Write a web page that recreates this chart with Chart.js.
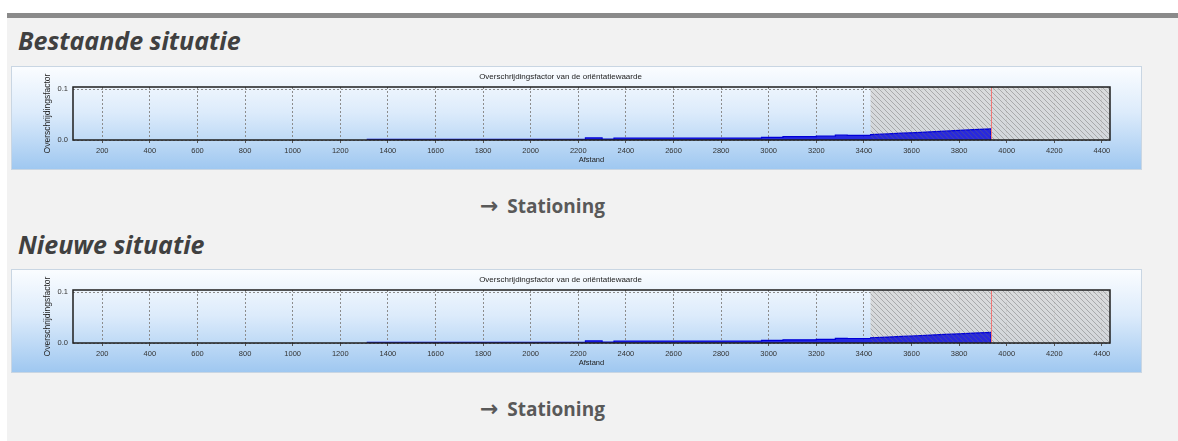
<!DOCTYPE html>
<html>
<head>
<meta charset="utf-8">
<script src="https://cdn.jsdelivr.net/npm/chart.js@4/dist/chart.umd.min.js"></script>
<style>
  html, body { margin: 0; padding: 0; width: 1178px; height: 441px; overflow: hidden; background: #ffffff; }
  .sheet { position: absolute; left: 7px; top: 13px; width: 1171px; height: 428px; background: #f2f2f2; border-top: 5px solid #8a8a8a; }
  .heading { position: absolute; left: 18px; margin: 0; font-family: "Open Sans", sans-serif; font-weight: 700; font-style: italic; font-size: 25px; line-height: 1; color: #404040; white-space: nowrap; }
  .station { position: absolute; left: 480px; margin: 0; font-family: "Open Sans", sans-serif; font-weight: 700; font-size: 19px; line-height: 1; color: #595959; white-space: nowrap; }
  .station .arrow { font-family: "DejaVu Sans", sans-serif; font-weight: 700; font-size: 22px; margin-right: 4px; }
  .panel { position: absolute; left: 11px; width: 1131px; height: 104px; }
</style>
</head>
<body>
<div class="sheet"></div>
<div class="heading" style="top:28px">Bestaande situatie</div>
<canvas id="chartBestaand" class="panel" width="1131" height="104" style="top:66px"></canvas>
<div class="station" style="top:195px"><span class="arrow">→</span> Stationing</div>
<div class="heading" style="top:232px">Nieuwe situatie</div>
<canvas id="chartNieuw" class="panel" width="1131" height="104" style="top:269px"></canvas>
<div class="station" style="top:398px"><span class="arrow">→</span> Stationing</div>

<script>
// Axis ticks and ranges
const xTicks = [200, 400, 600, 800, 1000, 1200, 1400, 1600, 1800, 2000, 2200,
                2400, 2600, 2800, 3000, 3200, 3400, 3600, 3800, 4000, 4200, 4400];
const yTicks = [0.0, 0.1];
const xRange = [77, 4434];
const yRange = [0, 0.104];

// Hatched zone start and red marker position (Afstand)
const zoneStart = 3428;
const markerAt = 3934;

// Bestaande situatie: afstand (m) and overschrijdingsfactor
const bestaandeAfstand = [1311, 2230, 2230, 2300, 2300, 2350, 2350, 2970, 2970, 3060, 3060,
                          3200, 3200, 3280, 3280, 3330, 3330, 3428, 3428, 3500, 3560, 3620,
                          3680, 3740, 3800, 3860, 3934, 3934];
const bestaandeFactor = [0.0015, 0.0015, 0.004, 0.004, 0.002, 0.002, 0.0035, 0.0035, 0.005, 0.005, 0.0065,
                         0.0065, 0.0075, 0.0075, 0.0095, 0.0095, 0.009, 0.009, 0.0105, 0.012, 0.0133, 0.0146,
                         0.016, 0.0174, 0.0188, 0.0203, 0.022, 0];

// Nieuwe situatie
const nieuweAfstand = [1311, 2230, 2230, 2300, 2300, 2350, 2350, 2970, 2970, 3060, 3060,
                       3200, 3200, 3280, 3280, 3330, 3330, 3428, 3428, 3500, 3560, 3620,
                       3680, 3740, 3800, 3860, 3934, 3934];
const nieuweFactor = [0.0015, 0.0015, 0.004, 0.004, 0.002, 0.002, 0.0035, 0.0035, 0.005, 0.005, 0.0062,
                      0.0062, 0.0072, 0.0072, 0.0092, 0.0092, 0.0088, 0.0088, 0.0103, 0.0117, 0.013, 0.0142,
                      0.0155, 0.0168, 0.0181, 0.0195, 0.0208, 0];

const tickFont = { family: "Liberation Sans", size: 7.5 };

function hatchPattern(ctx) {
  const c = document.createElement('canvas');
  c.width = 5; c.height = 5;
  const p = c.getContext('2d');
  p.strokeStyle = 'rgba(105,105,105,0.42)';
  p.lineWidth = 1;
  p.beginPath();
  p.moveTo(0, 0); p.lineTo(5, 5);
  p.moveTo(-1, 4); p.lineTo(1, 6);
  p.moveTo(4, -1); p.lineTo(6, 1);
  p.stroke();
  return ctx.createPattern(c, 'repeat');
}

// Panel gradient, hatched zone, marker line and plot frame
const panelPlugin = {
  id: 'panel',
  beforeDraw(chart) {
    const { ctx, width, height } = chart;
    const g = ctx.createLinearGradient(0, 0, 0, height);
    g.addColorStop(0, '#fbfdff');
    g.addColorStop(0.45, '#dcebfb');
    g.addColorStop(1, '#9ec7f0');
    ctx.save();
    ctx.fillStyle = g;
    ctx.fillRect(0, 0, width, height);
    ctx.strokeStyle = '#c9d6e3';
    ctx.lineWidth = 1;
    ctx.strokeRect(0.5, 0.5, width - 1, height - 1);
    ctx.restore();
  },
  beforeDatasetsDraw(chart) {
    const { ctx, chartArea: a, scales: { x } } = chart;
    const x0 = x.getPixelForValue(zoneStart);
    ctx.save();
    ctx.fillStyle = 'rgba(214,214,214,0.85)';
    ctx.fillRect(x0, a.top, a.right - x0, a.bottom - a.top);
    ctx.restore();
  },
  afterDatasetsDraw(chart) {
    const { ctx, chartArea: a, scales: { x } } = chart;
    const x0 = x.getPixelForValue(zoneStart);
    ctx.save();
    ctx.fillStyle = hatchPattern(ctx);
    ctx.fillRect(x0, a.top, a.right - x0, a.bottom - a.top);
    const xm = Math.round(x.getPixelForValue(markerAt)) + 0.5;
    ctx.strokeStyle = '#f07878';
    ctx.lineWidth = 1;
    ctx.beginPath();
    ctx.moveTo(xm, a.top);
    ctx.lineTo(xm, a.bottom);
    ctx.stroke();
    ctx.strokeStyle = '#1e1e1e';
    ctx.lineWidth = 1.5;
    ctx.strokeRect(a.left, a.top, a.right - a.left, a.bottom - a.top);
    ctx.restore();
  }
};

function makeChart(id, afstand, factor) {
  const points = afstand.map((d, i) => ({ x: d, y: factor[i] }));
  return new Chart(document.getElementById(id), {
    type: 'line',
    data: {
      datasets: [{
        data: points,
        borderColor: '#0000d8',
        borderWidth: 1.2,
        backgroundColor: 'rgba(10,10,220,0.85)',
        fill: 'origin',
        pointRadius: 0,
        tension: 0
      }]
    },
    options: {
      responsive: false,
      animation: false,
      events: [],
      layout: { padding: { left: 0, right: 32, top: 0, bottom: 0 } },
      plugins: {
        legend: { display: false },
        tooltip: { enabled: false },
        title: {
          display: true,
          text: 'Overschrijdingsfactor van de oriëntatiewaarde',
          color: '#222222',
          font: { family: "Liberation Sans", size: 8, weight: 'normal', lineHeight: 1.2 },
          padding: { top: 6, bottom: 5.4 }
        }
      },
      scales: {
        x: {
          type: 'linear',
          min: xRange[0],
          max: xRange[1],
          afterBuildTicks(scale) { scale.ticks = xTicks.map(v => ({ value: v })); },
          afterFit(scale) { scale.height = 30; },
          ticks: {
            autoSkip: false, maxRotation: 0, padding: 3,
            color: '#333333', font: tickFont,
            callback: v => String(v)
          },
          grid: { color: '#8c8c8c', lineWidth: 1, drawTicks: true, tickLength: 3, tickColor: '#555555' },
          border: { display: false, dash: [2, 2] },
          title: {
            display: true, text: 'Afstand', color: '#222222',
            font: { family: "Liberation Sans", size: 7.5, lineHeight: 1.2 },
            padding: { top: 0, bottom: 6 }
          }
        },
        y: {
          min: yRange[0],
          max: yRange[1],
          afterBuildTicks(scale) { scale.ticks = yTicks.map(v => ({ value: v })); },
          afterFit(scale) { scale.width = 62; },
          ticks: {
            padding: 5, color: '#333333', font: tickFont,
            callback: v => v.toFixed(1)
          },
          grid: { color: '#8c8c8c', lineWidth: 1, drawTicks: false },
          border: { display: false, dash: [2, 2] },
          title: {
            display: true, text: 'Overschrijdingsfactor', color: '#222222',
            font: { family: "Liberation Sans", size: 8.5, lineHeight: 1.2 },
            padding: { top: 32, bottom: 0 }
          }
        }
      }
    },
    plugins: [panelPlugin]
  });
}

makeChart('chartBestaand', bestaandeAfstand, bestaandeFactor);
makeChart('chartNieuw', nieuweAfstand, nieuweFactor);
</script>
</body>
</html>
